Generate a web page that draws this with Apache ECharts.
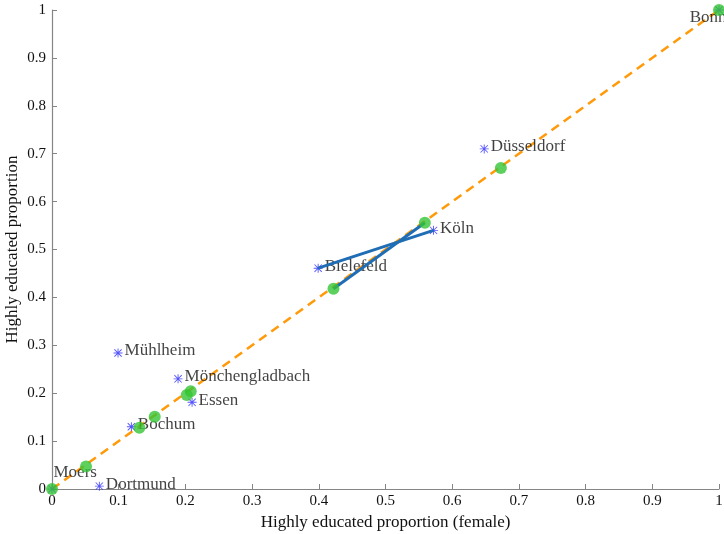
<!DOCTYPE html>
<html>
<head>
<meta charset="utf-8">
<script src="https://cdn.jsdelivr.net/npm/echarts@6/dist/echarts.min.js"></script>
<style>html,body{margin:0;padding:0;background:#fff;}#c{width:724px;height:534px;}</style>
</head>
<body>
<div id="c"></div>
<script>
var cities = ['Bonn','Düsseldorf','Köln','Bielefeld','Mühlheim','Mönchengladbach','Essen','Bochum','Moers','Dortmund'];
var starX  = [1.000, 0.648, 0.572, 0.399, 0.099, 0.189, 0.210, 0.119, 0.000, 0.071];
var starY  = [1.000, 0.710, 0.540, 0.461, 0.284, 0.230, 0.181, 0.130, 0.000, 0.006];
var dotX   = [1.000, 0.673, 0.559, 0.422, 0.154, 0.202, 0.208, 0.131, 0.000, 0.051];
var dotY   = [1.000, 0.670, 0.556, 0.418, 0.151, 0.196, 0.204, 0.128, 0.000, 0.047];
var diagX  = [0, 1];
var diagY  = [0, 1];
var xTicks = [0,0.1,0.2,0.3,0.4,0.5,0.6,0.7,0.8,0.9,1];
var yTicks = [0,0.1,0.2,0.3,0.4,0.5,0.6,0.7,0.8,0.9,1];
var linkPair = ['Bielefeld','Köln'];

var FONT = '"Liberation Serif", "Times New Roman", serif';
var star = 'path://M0 4.5H10V5.5H0Z M4.5 0H5.5V10H4.5Z M1.3 0.6L9.4 8.7L8.7 9.4L0.6 1.3Z M8.7 0.6L9.4 1.3L1.3 9.4L0.6 8.7Z';

var labelOverrides = {
  'Bonn': {position: 'left', distance: 2, offset: [14, 8]},
  'Moers': {position: 'right', distance: 2, offset: [-5, -16]}
};

var starData = cities.map(function(c, i){
  var d = {value: [starX[i], starY[i]], name: c};
  if (labelOverrides[c]) d.label = labelOverrides[c];
  return d;
});
var dotData = cities.map(function(c, i){ return [dotX[i], dotY[i]]; });
var ia = cities.indexOf(linkPair[0]), ib = cities.indexOf(linkPair[1]);

var chart = echarts.init(document.getElementById('c'), null, {renderer: 'canvas'});
var axisCommon = {
  min: 0, max: 1, interval: 0.1,
  axisLine: {show: true, onZero: false, lineStyle: {color: '#858585', width: 1.2}},
  axisTick: {show: true, inside: true, length: 5, lineStyle: {color: '#858585'}},
  splitLine: {show: false},
  axisLabel: {color: '#111', fontFamily: FONT, fontSize: 15,
    formatter: function(v){ return String(Math.round(v*10)/10); }},
  nameLocation: 'middle',
  nameMoveOverlap: false,
  nameTextStyle: {color: '#111', fontFamily: FONT, fontSize: 17}
};
chart.setOption({
  animation: false,
  backgroundColor: '#fff',
  grid: {left: 52, right: 5, top: 10, bottom: 45, containLabel: false, outerBoundsMode: 'none'},
  xAxis: Object.assign({}, axisCommon, {type: 'value', name: 'Highly educated proportion (female)', nameGap: 25,
    axisLabel: Object.assign({}, axisCommon.axisLabel, {margin: 5})}),
  yAxis: Object.assign({}, axisCommon, {type: 'value', name: 'Highly educated proportion', nameGap: 31,
    axisLabel: Object.assign({}, axisCommon.axisLabel, {margin: 6})}),
  series: [
    {type: 'line', z: 1, data: diagX.map(function(v,i){return [v, diagY[i]];}), symbol: 'none',
     lineStyle: {color: '#ff9a0a', width: 2.6, type: [9, 6]}},
    {type: 'scatter', z: 2, data: starData, symbol: star, symbolSize: 9,
     itemStyle: {color: '#2b2bff'},
     label: {show: true, position: 'right', distance: 2, offset: [0, -2], formatter: '{b}',
       color: '#111', fontFamily: FONT, fontSize: 17}},
    {type: 'line', z: 3, data: [[starX[ia], starY[ia]], [starX[ib], starY[ib]]], symbol: 'none',
     lineStyle: {color: '#1f6db4', width: 3}},
    {type: 'line', z: 3, data: [[dotX[ia], dotY[ia]], [dotX[ib], dotY[ib]]], symbol: 'none',
     lineStyle: {color: '#1f6db4', width: 3}},
    {type: 'scatter', z: 5, data: dotData, symbol: 'circle', symbolSize: 12,
     itemStyle: {color: '#35c435'}}
  ]
});
</script>
</body>
</html>
